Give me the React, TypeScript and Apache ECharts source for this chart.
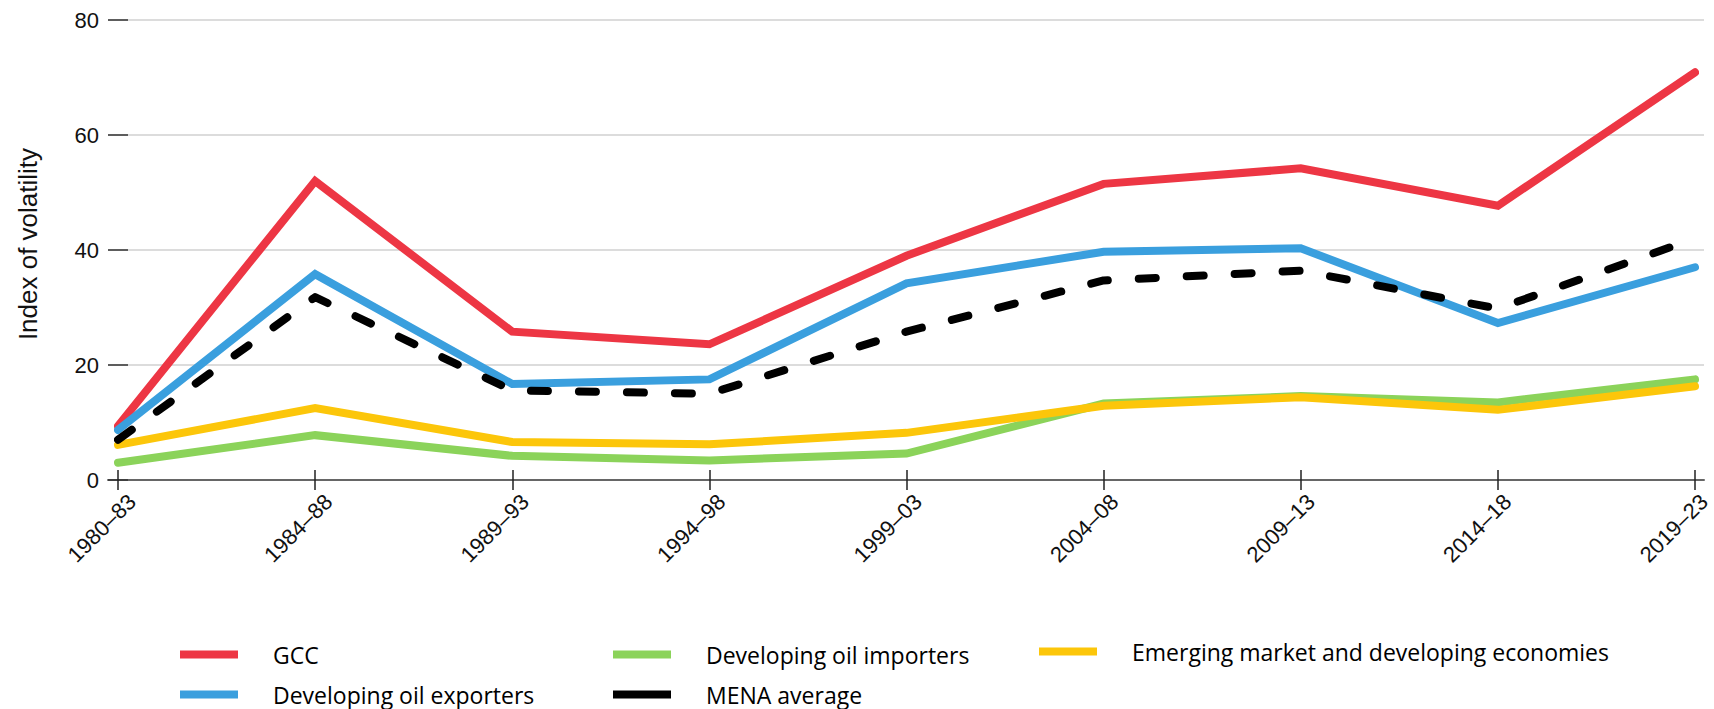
import React, { useEffect, useRef } from "react";
import * as echarts from "echarts";

const categories = ["1980–83", "1984–88", "1989–93", "1994–98", "1999–03", "2004–08", "2009–13", "2014–18", "2019–23"];
const gcc = [9.4, 52.0, 25.8, 23.6, 39.0, 51.5, 54.2, 47.7, 70.9];
const oilExporters = [8.7, 35.8, 16.7, 17.5, 34.2, 39.7, 40.3, 27.3, 37.0];
const oilImporters = [3.0, 7.8, 4.2, 3.4, 4.6, 13.3, 14.6, 13.5, 17.5];
const emde = [6.1, 12.5, 6.6, 6.2, 8.2, 12.9, 14.4, 12.2, 16.3];
const menaAverage = [7.0, 31.8, 15.6, 15.0, 25.8, 34.7, 36.4, 29.8, 42.0];
const yTicks = { min: 0, max: 80, interval: 20 };

const seriesNames = [
  "GCC",
  "Developing oil exporters",
  "Developing oil importers",
  "Emerging market and developing economies",
  "MENA average",
];
const seriesColors = ["#ED3644", "#3A9FDE", "#8BD35A", "#FCC60A", "#000000"];

export default function App() {
  const ref = useRef<HTMLDivElement>(null);
  useEffect(() => {
    if (!ref.current) return;
    const chart = echarts.init(ref.current, null, { renderer: "svg" });
    const axisFont = { fontFamily: "Liberation Sans, Arial, sans-serif", fontSize: 22, color: "#111" };
    const legendText = {
      fontFamily: "Open Sans",
      fontSize: 23,
      lineHeight: 23,
      color: "#000",
      padding: [0, 0, 0, 30],
    };
    const legendCommon = {
      orient: "vertical",
      icon: "rect",
      itemWidth: 58,
      itemHeight: 8,
      itemGap: 17,
      padding: 0,
      height: 64,
      selectedMode: false,
      textStyle: legendText,
    };
    const lineSeries = (name: string, color: string, data: number[], dashed = false) => ({
      name,
      type: "line",
      data,
      xAxisIndex: 1,
      yAxisIndex: 1,
      symbol: "none",
      color,
      lineStyle: {
        color,
        width: 8,
        cap: "round",
        join: dashed ? "round" : "miter",
        type: dashed ? [17, 31] : "solid",
      },
      emphasis: { disabled: true },
    });
    chart.setOption({
      animation: false,
      grid: [
        { left: 108, right: 10, top: 20, bottom: 229 },
        { left: 118, right: 19, top: 20, bottom: 229 },
        { left: 132, right: 5, top: 20, bottom: 229 },
      ],
      xAxis: [
        {
          gridIndex: 0,
          position: "bottom",
          type: "value",
          min: 0,
          max: 1,
          axisLine: { show: true, lineStyle: { color: "#666", width: 2 } },
          axisTick: { show: false },
          axisLabel: { show: false },
          splitLine: { show: false },
        },
        {
          gridIndex: 1,
          position: "bottom",
          type: "category",
          data: categories,
          boundaryGap: false,
          axisLine: { show: false },
          axisTick: { show: true, inside: false, length: 10, lineStyle: { color: "#222", width: 1.5 } },
          axisLabel: { show: false },
        },
        {
          gridIndex: 1,
          position: "bottom",
          type: "category",
          data: categories,
          boundaryGap: false,
          axisLine: { show: false },
          axisTick: { show: true, inside: true, length: 10, lineStyle: { color: "#222", width: 1.5 } },
          axisLabel: { show: false },
        },
        {
          gridIndex: 2,
          position: "bottom",
          type: "category",
          data: categories,
          boundaryGap: false,
          axisLine: { show: false },
          axisTick: { show: false },
          axisLabel: { ...axisFont, rotate: 45, margin: 18, interval: 0 },
        },
      ],
      yAxis: [
        {
          gridIndex: 0,
          position: "left",
          type: "value",
          min: yTicks.min,
          max: yTicks.max,
          interval: yTicks.interval,
          axisLine: { show: false },
          axisTick: { show: true, inside: true, length: 20, lineStyle: { color: "#333", width: 1.5 } },
          axisLabel: { ...axisFont, margin: 9 },
          splitLine: { show: true, lineStyle: { color: "#dcdcdc", width: 2 } },
        },
        {
          gridIndex: 1,
          type: "value",
          min: yTicks.min,
          max: yTicks.max,
          show: false,
        },
        {
          gridIndex: 2,
          type: "value",
          min: yTicks.min,
          max: yTicks.max,
          show: false,
        },
      ],
      legend: [
        { ...legendCommon, left: 180, top: 643, data: [seriesNames[0], seriesNames[1]] },
        { ...legendCommon, left: 613, top: 643, data: [seriesNames[2], seriesNames[4]] },
        { ...legendCommon, left: 1039, top: 640, data: [seriesNames[3]] },
      ],
      graphic: [
        {
          type: "text",
          x: 28,
          y: 244,
          rotation: Math.PI / 2,
          style: {
            text: "Index of volatility",
            fontFamily: "Liberation Sans, Arial, sans-serif",
            fontSize: 26,
            fill: "#111",
            align: "center",
            verticalAlign: "middle",
          },
        },
      ],
      series: [
        lineSeries(seriesNames[0], seriesColors[0], gcc),
        lineSeries(seriesNames[1], seriesColors[1], oilExporters),
        lineSeries(seriesNames[2], seriesColors[2], oilImporters),
        lineSeries(seriesNames[3], seriesColors[3], emde),
        // legend entry for the MENA average (solid swatch, as in the source legend)
        lineSeries(seriesNames[4], seriesColors[4], []),
        // the dashed MENA average line itself
        lineSeries("MENA average line", seriesColors[4], menaAverage, true),
      ],
    });
    return () => chart.dispose();
  }, []);
  return (
    <div
      ref={ref}
      style={{ position: "fixed", left: 0, top: 0, width: 1714, height: 709, background: "#fff" }}
    />
  );
}
